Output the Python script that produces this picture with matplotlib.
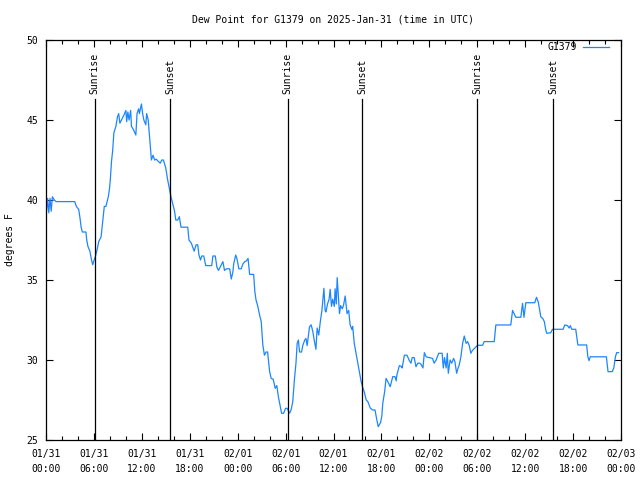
import matplotlib
matplotlib.use('Agg')
import matplotlib.pyplot as plt

# hours since 2025-01-31 00:00 UTC
hours = [
    0.05, 0.2, 0.35, 0.5, 0.65, 0.8, 1.05, 1.25, 3.6, 3.8, 4.1, 4.25, 4.4, 4.55,
    5.0, 5.1, 5.25, 5.5, 5.7, 5.85, 6.0, 6.2, 6.4, 6.6, 6.9, 7.0, 7.15, 7.3, 7.5,
    7.8, 7.95, 8.05, 8.2, 8.35, 8.5, 8.75, 8.95, 9.1, 9.25, 9.45, 9.75, 10.0, 10.1,
    10.25, 10.4, 10.6, 10.7, 10.95, 11.25, 11.4, 11.6, 11.7, 11.95, 12.1, 12.25,
    12.5, 12.6, 12.8, 13.0, 13.2, 13.4, 13.6, 13.8, 14.1, 14.3, 14.5, 14.7, 15.0,
    15.2, 15.5, 15.65, 15.9, 16.1, 16.25, 16.5, 16.7, 16.9, 17.75, 17.9, 18.2,
    18.55, 18.8, 19.0, 19.15, 19.35, 19.5, 19.75, 20.0, 20.75, 20.9, 21.2, 21.4,
    21.6, 21.8, 22.15, 22.35, 22.6, 23.0, 23.2, 23.4, 23.5, 23.75, 23.9, 24.15,
    24.45, 24.65, 24.9, 25.1, 25.3, 25.5, 26.0, 26.15, 26.3, 26.5, 26.75, 26.95,
    27.15, 27.35, 27.55, 27.75, 28.0, 28.2, 28.45, 28.7, 28.9, 29.1, 29.3, 29.5,
    29.75, 30.0, 30.2, 30.5, 30.7, 30.9, 31.1, 31.3, 31.45, 31.6, 31.75, 32.0,
    32.15, 32.4, 32.55, 32.7, 33.0, 33.2, 33.4, 33.6, 33.8, 33.95, 34.15, 34.35,
    34.55, 34.8, 34.95, 35.05, 35.25, 35.45, 35.58, 35.75, 35.9, 36.1, 36.2, 36.35,
    36.46, 36.6, 36.75, 36.9, 37.1, 37.25, 37.46, 37.7, 37.9, 38.08, 38.3, 38.4,
    38.6, 38.83, 39.05, 39.25, 39.46, 39.65, 39.85, 40.1, 40.3, 40.6, 40.9, 41.2,
    41.35, 41.6, 41.9, 42.05, 42.17, 42.4, 42.58, 42.85, 43.1, 43.42, 43.7, 43.85,
    43.95, 44.25, 44.5, 44.6, 44.875, 45.2, 45.5, 45.7, 45.85, 46.1, 46.33, 46.55,
    46.8, 47.0, 47.2, 47.375, 47.6, 48.0, 48.4, 48.6, 48.85, 49.17, 49.6, 49.75,
    49.9, 50.1, 50.25, 50.375, 50.6, 50.8, 51.04, 51.2, 51.42, 51.6, 51.75, 51.95,
    52.17, 52.375, 52.6, 52.8, 53.0, 53.2, 53.4, 53.6, 53.8, 54.04, 54.67, 54.875,
    56.125, 56.33, 58.2, 58.42, 58.83, 59.46, 59.67, 59.85, 60.08, 61.2, 61.42,
    61.65, 61.96, 62.2, 62.4, 62.58, 62.7, 63.2, 63.42, 64.75, 64.96, 65.3, 65.5,
    65.65, 65.83, 66.33, 66.6, 67.7, 67.85, 68.0, 68.15, 70.17, 70.375, 70.9,
    71.1, 71.3, 71.46, 71.7,
]
dew_f = [
    39.2, 40.1, 39.2, 40.1, 39.3, 40.2, 40.0, 39.9, 39.9, 39.6, 39.4, 38.9, 38.3, 38.0,
    38.0, 37.5, 37.1, 36.8, 36.25, 35.95, 36.2, 36.5, 36.9, 37.4, 37.7, 38.2, 38.9, 39.6, 39.6,
    40.2, 40.7, 41.25, 42.4, 43.1, 44.2, 44.6, 45.2, 45.4, 44.8, 45.0, 45.3, 45.6, 44.9,
    45.5, 45.0, 45.6, 44.6, 44.4, 44.06, 45.4, 45.7, 45.4, 46.0, 45.4, 45.0,
    44.7, 45.4, 45.0, 43.75, 42.5, 42.8, 42.5, 42.55, 42.4, 42.3, 42.5, 42.5, 42.0,
    41.35, 40.6, 40.2, 39.7, 39.3, 38.75, 38.75, 38.96, 38.3, 38.3, 37.5, 37.3,
    36.8, 37.2, 37.2, 36.56, 36.25, 36.5, 36.5, 35.9, 35.9, 36.5, 36.5, 35.8,
    35.6, 35.8, 36.15, 35.6, 35.7, 35.7, 35.06, 35.5, 36.0, 36.56, 36.35, 35.7,
    35.7, 36.0, 36.15, 36.2, 36.35, 35.35, 35.35, 34.27, 33.75, 33.4, 32.8, 32.4,
    30.94, 30.3, 30.5, 30.5, 29.27, 28.85, 28.8, 28.23, 28.4, 27.7, 27.19, 26.67,
    26.67, 26.98, 26.98, 26.67, 26.9, 27.4, 28.75, 29.8, 31.04, 31.25, 30.5, 30.5,
    30.9, 31.25, 31.35, 30.9, 32.08, 32.2, 31.8, 31.2, 30.67, 32.0, 31.56, 32.4,
    33.1, 34.48, 33.1, 33.0, 33.5, 33.8, 34.42, 33.35, 33.8, 33.35, 34.45, 33.5,
    35.15, 34.1, 32.9, 33.4, 33.2, 33.4, 34.0, 32.9, 33.1, 32.2, 31.9, 32.1,
    31.04, 30.4, 29.8, 29.2, 28.65, 28.3, 28.0, 27.5, 27.4, 27.0, 26.875, 26.875,
    26.46, 25.83, 26.1, 26.5, 27.3, 28.0, 28.85, 28.6, 28.33, 28.96, 28.96, 28.7,
    29.1, 29.65, 29.6, 29.5, 30.3, 30.3, 29.96, 29.8, 30.15, 30.15, 29.58, 29.8,
    29.8, 29.7, 29.5, 30.46, 30.2, 30.15, 30.1, 29.8, 30.0, 30.42, 30.42, 29.5,
    30.15, 29.5, 30.42, 29.17, 30.0, 29.8, 30.1, 29.9, 29.17, 29.5, 29.7, 30.2,
    31.04, 31.5, 31.04, 31.15, 30.9, 30.42, 30.6, 30.7, 30.8, 30.92, 30.92, 31.15,
    31.15, 32.19, 32.19, 33.1, 32.67, 32.67, 33.54, 32.67, 33.58, 33.58, 33.92,
    33.6, 32.7, 32.6, 32.4, 31.875, 31.67, 31.7, 31.92, 31.92, 32.19, 32.15, 32.0,
    32.15, 31.92, 31.92, 30.94, 30.94, 30.2, 29.96, 30.2, 30.2, 29.27, 29.27,
    29.5, 30.2, 30.46, 30.46,
]

sun_hours = [6.12, 15.58, 30.25, 39.6, 54.0, 63.5]
sun_labels = ['Sunrise', 'Sunset', 'Sunrise', 'Sunset', 'Sunrise', 'Sunset']

xtick_hours = list(range(0, 73, 6))
xtick_labels = ['01/31\n00:00', '01/31\n06:00', '01/31\n12:00', '01/31\n18:00',
                '02/01\n00:00', '02/01\n06:00', '02/01\n12:00', '02/01\n18:00',
                '02/02\n00:00', '02/02\n06:00', '02/02\n12:00', '02/02\n18:00',
                '02/03\n00:00']
ytick_values = [25, 30, 35, 40, 45, 50]

plt.rcParams['font.family'] = 'DejaVu Sans Mono'
plt.rcParams['font.size'] = 7

fig = plt.figure(figsize=(6.4, 4.8), dpi=100)
ax = fig.add_axes([46 / 640, 40 / 480, 575 / 640, 400 / 480])

ax.plot(hours, dew_f, color='#1c86ff', lw=0.9, label='G1379')

# sunrise / sunset markers
for h, lab in zip(sun_hours, sun_labels):
    ax.plot([h, h], [25, 46.3], color='black', lw=0.9)
    ax.text(h, 46.6, lab, rotation=90, ha='center', va='bottom')

ax.set_xlim(0, 72)
ax.set_ylim(25, 50)
ax.set_xticks(xtick_hours)
ax.set_xticklabels(xtick_labels, linespacing=1.6)
ax.set_xticks(range(0, 73, 2), minor=True)
ax.set_yticks(ytick_values)
ax.tick_params(which='both', direction='in', top=True, right=True, width=0.8)
ax.tick_params(which='major', length=5)
ax.tick_params(which='minor', length=3)
ax.tick_params(axis='x', pad=6.5)
ax.tick_params(axis='y', pad=5.8)
for s in ax.spines.values():
    s.set_linewidth(0.9)

ax.set_ylabel('degrees F')
ax.yaxis.set_label_coords(-0.054, 0.5)

fig.text(333 / 640, 1 - 20 / 480, 'Dew Point for G1379 on 2025-Jan-31 (time in UTC)',
         ha='center', va='center')

ax.legend(loc='upper right', bbox_to_anchor=(609 / 640, 1 - 42 / 480),
          bbox_transform=fig.transFigure, frameon=False, markerfirst=False,
          handlelength=2.7, handletextpad=0.6, borderpad=0, borderaxespad=0)

fig.savefig('out.png', dpi=100)
